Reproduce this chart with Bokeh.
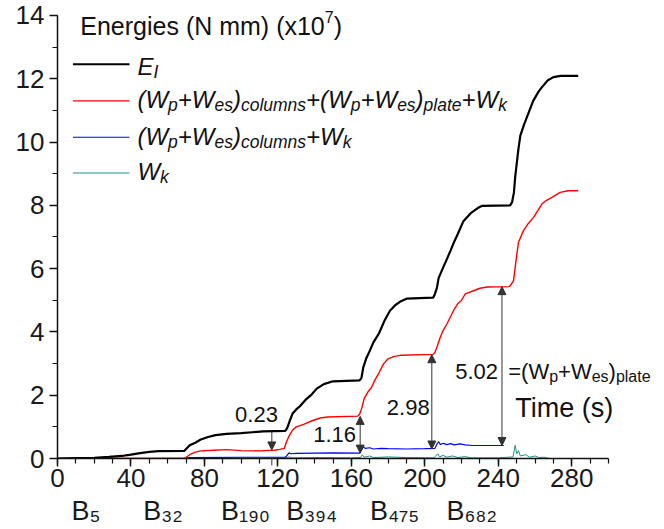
from bokeh.plotting import figure
from bokeh.models import Label, Arrow, NormalHead, FixedTicker, Range1d, LinearAxis
from bokeh.embed import file_html
from bokeh.resources import INLINE

# ---------------- data ----------------
t_black = [0, 10, 20, 28, 35, 40, 45, 50, 55, 69, 70, 72, 75, 78, 82, 86, 92, 100, 106, 112,
           124, 125, 126.5, 128, 130, 132, 135, 138, 141, 145, 150, 164.5, 165.5, 166.5, 168,
           170, 172, 175, 178, 181, 184, 187, 190, 204.5, 205.5, 206.6, 207.5, 210, 212, 214,
           216, 218, 221, 225, 229, 231, 246.5, 247.5, 248.5, 249.2, 250, 251, 252, 254, 256,
           259, 262, 264, 267, 270, 274, 283.5]
e_black = [0, 0.01, 0.02, 0.05, 0.08, 0.12, 0.17, 0.21, 0.23, 0.24, 0.3, 0.42, 0.5, 0.6, 0.68,
           0.74, 0.78, 0.8, 0.83, 0.86, 0.87, 0.95, 1.2, 1.42, 1.55, 1.65, 1.85, 2.0, 2.2, 2.35,
           2.44, 2.47, 2.55, 2.88, 3.15, 3.4, 3.67, 3.95, 4.35, 4.67, 4.85, 4.97, 5.05, 5.08,
           5.2, 5.4, 5.7, 6.04, 6.3, 6.57, 6.85, 7.1, 7.5, 7.75, 7.92, 7.98, 8.0, 8.1, 8.4,
           8.9, 9.3, 9.8, 10.2, 10.55, 10.85, 11.3, 11.6, 11.75, 11.95, 12.05, 12.09, 12.09]

t_red = [0, 69, 70, 72, 75, 78, 85, 92, 100, 110, 118, 121, 123.5, 124.5, 126, 128, 130, 134,
         139, 143, 147, 163.5, 164.5, 165.7, 167, 169, 171, 173, 175, 177.5, 180, 183, 186.6,
         204.5, 205.5, 206.6, 208.4, 210, 212, 215.6, 218, 220, 222, 226.5, 230, 234, 246,
         247, 248.3, 249.2, 250.1, 251, 253.7, 256, 259.2, 263.7, 266, 269.2, 273.7, 278, 283.5]
e_red = [0, 0.0, 0.04, 0.12, 0.2, 0.24, 0.26, 0.28, 0.25, 0.24, 0.26, 0.29, 0.32, 0.5, 0.7,
         0.9, 1.0, 1.08, 1.2, 1.28, 1.31, 1.34, 1.4, 1.6, 1.9, 2.1, 2.25, 2.5, 2.7, 2.99, 3.15,
         3.22, 3.26, 3.29, 3.35, 3.52, 3.83, 4.05, 4.25, 4.67, 4.9, 5.0, 5.2, 5.3, 5.38, 5.42,
         5.43, 5.5, 5.62, 6.04, 6.46, 6.83, 7.2, 7.4, 7.62, 8.04, 8.15, 8.25, 8.41, 8.46, 8.46]

t_blue = [0, 70, 71, 100, 124, 125, 126, 127, 130, 140, 150, 164.5, 165.5, 166.5, 167.5, 170,
          172, 176, 180, 190, 200, 205.5, 206.5, 207.5, 208.5, 210, 212, 214, 216, 219, 222,
          226, 243]
e_blue = [0, 0.0, 0.03, 0.04, 0.04, 0.1, 0.18, 0.15, 0.16, 0.17, 0.18, 0.17, 0.28, 0.37, 0.32,
          0.34, 0.3, 0.32, 0.31, 0.3, 0.31, 0.32, 0.45, 0.53, 0.44, 0.48, 0.44, 0.47, 0.43,
          0.46, 0.43, 0.41, 0.41]

t_wk = [0, 70, 124, 126, 128, 140, 160, 165, 166, 167, 170, 172, 180, 190, 205, 207, 208, 210,
        212, 215, 218, 222, 225, 240, 248, 249.2, 250, 251, 252, 255, 257, 260, 262, 265, 268,
        283]
e_wk = [0, 0.01, 0.01, 0.05, 0.02, 0.03, 0.02, 0.03, 0.12, 0.04, 0.08, 0.03, 0.05, 0.03, 0.02,
        0.15, 0.05, 0.1, 0.04, 0.08, 0.03, 0.06, 0.02, 0.02, 0.05, 0.42, 0.15, 0.25, 0.08, 0.12,
        0.04, 0.08, 0.03, 0.04, 0.0, 0.0]

x_major = [0, 40, 80, 120, 160, 200, 240, 280]
x_minor = list(range(0, 301, 10))
y_major = [0, 2, 4, 6, 8, 10, 12, 14]
y_minor = list(range(0, 15))

# dimension arrows: time, top value, bottom value, label
ann_t = [116.7, 164.8, 203.8, 242.0]
ann_top = [0.27, 1.33, 3.28, 5.43]
ann_bot = [0.03, 0.17, 0.30, 0.41]
ann_text = ["0.23", "1.16", "2.98", "5.02"]

# building labels under the time axis (label centres in s)
b_labels = ["B\u2085", "B\u2083\u2082", "B\u2081\u2089\u2080", "B\u2083\u2089\u2084",
            "B\u2084\u2087\u2085", "B\u2086\u2088\u2082"]
b_t = [15.5, 57.4, 102.4, 138.4, 183.5, 225.5]

COL_BLACK = "#000000"
COL_RED = "#ff0000"
COL_BLUE = "#0000ff"
COL_TEAL = "#1f9088"

FONT = "Liberation Sans"
ARIAL = {'E': 667, 'n': 556, 'e': 556, 'r': 333, 'g': 556, 'i': 222, 's': 500, ' ': 278,
         '(': 333, ')': 333, 'N': 722, 'm': 833, 'x': 500, '1': 556, '0': 556, '7': 556,
         'I': 278, 'W': 944, 'p': 556, '+': 584, 'c': 500, 'o': 556, 'l': 222, 'u': 556,
         'k': 500, 'a': 556, 't': 278, '=': 584, '.': 278, '2': 556, '3': 556, '5': 556,
         '9': 556, '8': 556, '6': 556, '4': 556, 'B': 667, 'T': 611}

p = figure(width=664, height=529, x_range=Range1d(0, 329.4), y_range=Range1d(0, 14.25),
           output_backend="svg", toolbar_location=None,
           min_border_left=57, min_border_right=2, min_border_top=7, min_border_bottom=71)
p.outline_line_color = None
p.xgrid.visible = False
p.ygrid.visible = False
p.background_fill_color = "white"

p.xaxis.ticker = FixedTicker(ticks=x_major, minor_ticks=x_minor)
p.yaxis.ticker = FixedTicker(ticks=y_major, minor_ticks=y_minor)
p.xaxis.bounds = (0, 300)
p.yaxis.bounds = (0, 14)
for ax in (p.xaxis[0], p.yaxis[0]):
    ax.axis_line_width = 1.5
    ax.axis_line_color = "#111111"
    ax.major_tick_line_color = "#111111"
    ax.minor_tick_line_color = "#111111"
    ax.major_tick_line_width = 1.5
    ax.minor_tick_line_width = 1.2
    ax.major_tick_in = 0
    ax.major_tick_out = 8
    ax.minor_tick_in = 0
    ax.minor_tick_out = 5
    ax.major_label_text_font = FONT
    ax.major_label_text_font_size = "26px"
    ax.major_label_text_color = "#1a1a1a"
p.xaxis.major_label_standoff = 2
p.yaxis.major_label_standoff = 5

b_axis = LinearAxis(ticker=FixedTicker(ticks=b_t, minor_ticks=[]),
                    major_label_overrides={t: s for t, s in zip(b_t, b_labels)},
                    axis_line_color=None, major_tick_line_color=None,
                    minor_tick_line_color=None, major_label_standoff=0,
                    major_label_text_font=FONT, major_label_text_font_size="27px",
                    major_label_text_color="#1a1a1a")
p.add_layout(b_axis, "below")

p.line(t_wk, e_wk, line_color=COL_TEAL, line_width=1)
p.line(t_blue, e_blue, line_color=COL_BLUE, line_width=1.2)
p.line(t_red, e_red, line_color=COL_RED, line_width=1.4)
p.line(t_black, e_black, line_color=COL_BLACK, line_width=2.2)


def rich(x, y, segs, size, sub_size, italic=False, drop=6, rise=10, color="#111111"):
    off = 0.0
    lift = 0.4 * size  # baseline correction observed in the rendering
    for txt, kind in segs:
        fs = size if kind == "n" else sub_size
        dy = 0 if kind == "n" else (-drop if kind == "sub" else rise)
        p.add_layout(Label(x=x, y=y, x_offset=off, y_offset=dy + lift, text=txt,
                           text_font=FONT, text_font_size=f"{fs}px",
                           text_font_style="italic" if italic else "normal",
                           text_baseline="alphabetic", text_align="left",
                           text_color=color))
        off += sum(ARIAL.get(c, 556) for c in txt) / 1000 * fs


# header
rich(12.4, 13.36, [("Energies (N mm) (x10", "n"), ("7", "sup"), (")", "n")], 25, 16, rise=9)

# legend
leg_x0, leg_x1, leg_tx = 8.4, 39.2, 43.5
leg_line_y = [12.46, 11.30, 10.15, 9.02]
leg_text_y = [12.09, 11.04, 9.88, 8.78]
leg_cols = [COL_BLACK, COL_RED, COL_BLUE, COL_TEAL]
leg_w = [2.0, 1.4, 1.2, 1.2]
leg_segs = [
    [("E", "n"), ("I", "sub")],
    [("(W", "n"), ("p", "sub"), ("+W", "n"), ("es", "sub"), (")", "n"), ("columns", "sub"),
     ("+(W", "n"), ("p", "sub"), ("+W", "n"), ("es", "sub"), (")", "n"), ("plate", "sub"),
     ("+W", "n"), ("k", "sub")],
    [("(W", "n"), ("p", "sub"), ("+W", "n"), ("es", "sub"), (")", "n"), ("columns", "sub"),
     ("+W", "n"), ("k", "sub")],
    [("W", "n"), ("k", "sub")],
]
for yl, yt, c, w, segs in zip(leg_line_y, leg_text_y, leg_cols, leg_w, leg_segs):
    p.segment(x0=[leg_x0], y0=[yl], x1=[leg_x1], y1=[yl], line_color=c, line_width=w)
    rich(leg_tx, yt, segs, 24, 17.5, italic=True, drop=6)

# dimension arrows
ARROW_COL = "#333333"
p.add_layout(Arrow(x_start=ann_t[0], y_start=0.86, x_end=ann_t[0], y_end=ann_top[0],
                   start=None, end=NormalHead(size=8, line_color=ARROW_COL, fill_color=ARROW_COL),
                   line_color=ARROW_COL, line_width=1))
p.add_layout(Arrow(x_start=ann_t[0], y_start=-0.38, x_end=ann_t[0], y_end=ann_bot[0],
                   start=None, end=NormalHead(size=8, line_color=ARROW_COL, fill_color=ARROW_COL),
                   line_color=ARROW_COL, line_width=1))
for t, top, bot in zip(ann_t[1:], ann_top[1:], ann_bot[1:]):
    p.add_layout(Arrow(x_start=t, y_start=bot, x_end=t, y_end=top,
                       start=NormalHead(size=8, line_color=ARROW_COL, fill_color=ARROW_COL),
                       end=NormalHead(size=8, line_color=ARROW_COL, fill_color=ARROW_COL),
                       line_color=ARROW_COL, line_width=1))

ann_lx = [96.7, 139.2, 179.3, 216.5]
ann_ly = [1.10, 0.47, 1.33, 2.46]
for txt, x, y in zip(ann_text, ann_lx, ann_ly):
    rich(x, y, [(txt, "n")], 22, 16)
rich(245.4, 2.46, [("=(W", "n"), ("p", "sub"), ("+W", "n"), ("es", "sub"), (")", "n"),
                   ("plate", "sub")], 22, 16, drop=5)
rich(249.2, 1.26, [("Time (s)", "n")], 27, 20)

open("out.html", "w").write(file_html(p, INLINE))
